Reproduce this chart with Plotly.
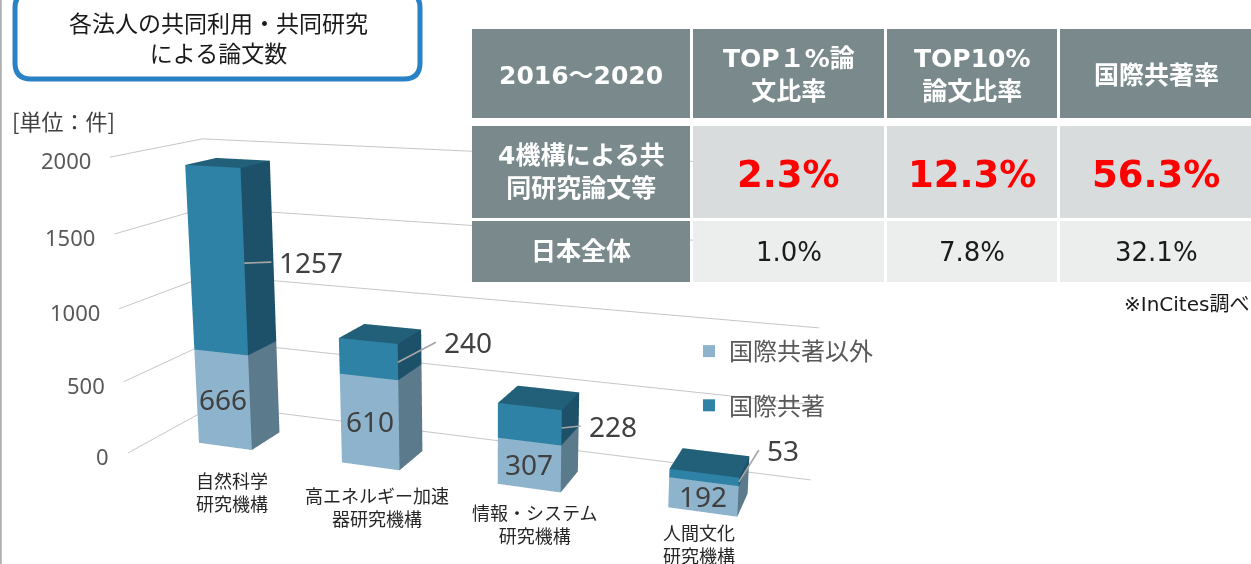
import math
import plotly.graph_objects as go

W, H = 1251, 564          # visible page
HF = 1078                 # figure height (taller canvas -> weaker 3D perspective)
OFF = 264                 # figure is shifted up by this many px on the page

# ---------------- data ----------------
categories = ["自然科学<br>研究機構", "高エネルギー加速<br>器研究機構",
              "情報・システム<br>研究機構", "人間文化<br>研究機構"]
non_intl = [666, 610, 307, 192]      # 国際共著以外
intl = [1257, 240, 228, 53]          # 国際共著
series_names = ["国際共著以外", "国際共著"]
value_ticks = [0, 500, 1000, 1500, 2000]

table_head = ["2016～2020", "TOP１%論<br>文比率", "TOP10%<br>論文比率", "国際共著率"]
table_row_names = ["4機構による共<br>同研究論文等", "日本全体"]
rates_4inst = [2.3, 12.3, 56.3]
rates_japan = [1.0, 7.8, 32.1]

# ---------------- style ----------------
JP = "Noto Sans CJK JP"
NUM = "Noto Sans"
TBL = "DejaVu Sans, Noto Sans CJK JP"
C_LOW = ("#8db4cc", "#5b7a8b", "#7aa3bb")    # front, side, top
C_UP = ("#2e82a6", "#1d5169", "#226079")
LEG_COL = ["#8db4cc", "#2e82a6"]
GRID = "#c6c6c6"

BAR_W = 0.38
DEPTH = 1.0
BAR_D = 0.35
Y0 = 0.31
Y1 = Y0 + BAR_D
ZMAX = 2000
Z_CAT = 1.832      # height of the value box in category units
S = 0.5            # scene scale

up_offsets = [(27, -1), (38, -20), (19, -2), (20, -32)]
cat_shift = [(7, -45), (7, -40), (6, -35), (-3, -32)]


def px_x(x):
    return x / W


def px_y(y):
    return 1 - (y + OFF) / HF


# ---------------- 3D bars ----------------
def add_box(st, x0, x1, y0, y1, z0, z1, cols):
    cf, cs, ct = cols
    n = len(st["x"])
    st["x"] += [x0, x1, x1, x0, x0, x1, x1, x0]
    st["y"] += [y0, y0, y1, y1, y0, y0, y1, y1]
    st["z"] += [z0, z0, z0, z0, z1, z1, z1, z1]
    tris = [(0, 1, 5, cf), (0, 5, 4, cf), (1, 2, 6, cs), (1, 6, 5, cs),
            (4, 5, 6, ct), (4, 6, 7, ct), (3, 2, 6, cs), (3, 6, 7, cs),
            (0, 3, 7, cf), (0, 7, 4, cf), (0, 1, 2, cs), (0, 2, 3, cs)]
    for a, b, c, col in tris:
        st["i"].append(n + a)
        st["j"].append(n + b)
        st["k"].append(n + c)
        st["fc"].append(col)


fig = go.Figure()
for sidx, cols in enumerate([C_LOW, C_UP]):
    st = dict(x=[], y=[], z=[], i=[], j=[], k=[], fc=[])
    for ci in range(len(categories)):
        xc = ci + 0.5
        z0 = 0 if sidx == 0 else non_intl[ci]
        z1 = non_intl[ci] if sidx == 0 else non_intl[ci] + intl[ci]
        add_box(st, xc - BAR_W / 2, xc + BAR_W / 2, Y0, Y1, z0, z1, cols)
    fig.add_trace(go.Mesh3d(
        x=st["x"], y=st["y"], z=st["z"], i=st["i"], j=st["j"], k=st["k"],
        facecolor=st["fc"], flatshading=True, showscale=False, showlegend=False,
        lighting=dict(ambient=1, diffuse=0, specular=0, roughness=1, fresnel=0),
        hoverinfo="skip", name=series_names[sidx]))

# legend entries
for sidx, name in enumerate(series_names):
    fig.add_trace(go.Scatter(
        x=[None], y=[None], mode="markers", name=name, legendgroup=name,
        marker=dict(symbol="square", size=15, color=LEG_COL[sidx])))

# ---------------- scene annotations ----------------
scene_ann = []
label_font = dict(family=NUM, size=28, color="#404040")
for ci in range(len(categories)):
    xc = ci + 0.5
    scene_ann.append(dict(x=xc, y=Y0, z=non_intl[ci] / 2, text=str(non_intl[ci]),
                          showarrow=False, yshift=1, font=label_font))
    ax, ay = up_offsets[ci]
    scene_ann.append(dict(x=xc + BAR_W / 2, y=Y0, z=non_intl[ci] + intl[ci] / 2,
                          text=str(intl[ci]), showarrow=True, arrowhead=0,
                          arrowwidth=1.6, arrowcolor="#a6a6a6", ax=ax, ay=ay,
                          xanchor="left", borderpad=7, font=label_font))
    sx, sy = cat_shift[ci]
    scene_ann.append(dict(x=xc, y=Y0, z=0, text=categories[ci], showarrow=False,
                          xshift=sx, yshift=sy,
                          font=dict(family=JP, size=18, color="#262626")))
for t in value_ticks:
    scene_ann.append(dict(x=0, y=0, z=t, text=str(t), showarrow=False,
                          xanchor="right", xshift=-17, yshift=-3,
                          font=dict(family=NUM, size=22, color="#595959")))

# ---------------- camera (world units: one category = 1) ----------------
yaw, pitch = math.radians(20.3), math.radians(12.5)
eye_w = (4.684, -6.37, 2.809)
F = (-math.sin(yaw) * math.cos(pitch), math.cos(yaw) * math.cos(pitch), -math.sin(pitch))


def to_model(p):
    return ((p[0] - 2.0) * S, (p[1] - DEPTH / 2) * S, (p[2] - Z_CAT / 2) * S)


E = to_model(eye_w)
C = [E[q] + 3.8 * F[q] for q in range(3)]

hidden_axis = dict(showgrid=False, showticklabels=False, showline=False, zeroline=False,
                   showbackground=False, showspikes=False, ticks="", title=dict(text=""))

fig.update_layout(
    width=W, height=HF, margin=dict(l=0, r=0, t=0, b=0),
    paper_bgcolor="white", plot_bgcolor="rgba(0,0,0,0)",
    xaxis=dict(visible=False), yaxis=dict(visible=False),
    scene=dict(
        domain=dict(x=[0, 964 / W], y=[0, 1]),
        aspectmode="manual",
        aspectratio=dict(x=4 * S, y=DEPTH * S, z=Z_CAT * S),
        xaxis=dict(range=[0, 4], **hidden_axis),
        yaxis=dict(range=[0, DEPTH], **hidden_axis),
        zaxis=dict(range=[0, ZMAX], tickvals=value_ticks, showgrid=True, gridcolor=GRID,
                   gridwidth=2, showline=False, zeroline=False, showbackground=False,
                   showspikes=False, ticks="", showticklabels=False, title=dict(text="")),
        camera=dict(up=dict(x=0, y=0, z=1),
                    center=dict(x=C[0], y=C[1], z=C[2]),
                    eye=dict(x=E[0], y=E[1], z=E[2]),
                    projection=dict(type="perspective")),
        annotations=scene_ann,
        bgcolor="rgba(0,0,0,0)",
    ),
    showlegend=True,
    legend=dict(x=px_x(689), y=px_y(329), xanchor="left", yanchor="top",
                font=dict(family=JP, size=24, color="#595959"),
                bgcolor="rgba(0,0,0,0)", tracegroupgap=20, traceorder="grouped",
                itemsizing="constant"),
    hovermode=False,
)

# ---------------- table (shapes + annotations) ----------------
shapes = []
annots = []
col_edges = [(472, 690), (693, 884), (887, 1057), (1060, 1252)]
row_edges = [(29, 118), (126, 218), (221, 282)]
HEAD_FILL = "#7a8a8c"
ROW_FILL = ["#d9dcdd", "#eceeee"]


def cell(x0, x1, y0, y1, fill):
    shapes.append(dict(type="rect", xref="paper", yref="paper", layer="above",
                       x0=px_x(x0), x1=px_x(x1), y0=px_y(y1), y1=px_y(y0),
                       fillcolor=fill, line=dict(width=0)))


def text(x, y, s, size, color, family=JP, xanchor="center", bold=False):
    annots.append(dict(xref="paper", yref="paper", x=px_x(x), y=px_y(y),
                       text=("<b>%s</b>" % s) if bold else s, showarrow=False,
                       xanchor=xanchor, yanchor="middle",
                       font=dict(family=family, size=size, color=color)))


for c, (x0, x1) in enumerate(col_edges):
    ry0, ry1 = row_edges[0]
    cell(x0, x1, ry0, ry1, HEAD_FILL)
    text((x0 + x1) / 2, 75, table_head[c], 25, "white", family=TBL, bold=True)

body_vals = [rates_4inst, rates_japan]
for r in range(2):
    ry0, ry1 = row_edges[r + 1]
    x0, x1 = col_edges[0]
    cell(x0, x1, ry0, ry1, HEAD_FILL)
    text((x0 + x1) / 2, (ry0 + ry1) / 2, table_row_names[r], 25, "white",
         family=TBL, bold=True)
    for c in range(3):
        x0, x1 = col_edges[c + 1]
        cell(x0, x1, ry0, ry1, ROW_FILL[r])
        if r == 0:
            text((x0 + x1) / 2, (ry0 + ry1) / 2 + 2, "%.1f%%" % body_vals[r][c], 37,
                 "#ff0000", family=TBL, bold=True)
        else:
            text((x0 + x1) / 2, (ry0 + ry1) / 2, "%.1f%%" % body_vals[r][c], 26,
                 "#1a1a1a", family=TBL)

text(1251, 304, "※InCites調べ", 20, "#1a1a1a", family=TBL, xanchor="right")

# ---------------- title box, unit, border ----------------
bx0, bx1, by0, by1, rr = 15, 420, -8, 79, 16
pts = [("M", bx0 + rr, by0), ("L", bx1 - rr, by0), ("Q", bx1, by0, bx1, by0 + rr),
       ("L", bx1, by1 - rr), ("Q", bx1, by1, bx1 - rr, by1), ("L", bx0 + rr, by1),
       ("Q", bx0, by1, bx0, by1 - rr), ("L", bx0, by0 + rr), ("Q", bx0, by0, bx0 + rr, by0)]
path = ""
for p in pts:
    coords = p[1:]
    seg = ["%.5f,%.5f" % (px_x(coords[q]), px_y(coords[q + 1]))
           for q in range(0, len(coords), 2)]
    path += p[0] + " " + " ".join(seg) + " "
path += "Z"
shapes.append(dict(type="path", xref="paper", yref="paper", path=path, layer="above",
                   fillcolor="white", line=dict(color="#2a82c6", width=5)))
text(218, 37, "各法人の共同利用・共同研究<br>による論文数", 23, "#1a1a1a")
text(10, 120, "[単位：件]", 22, "#404040", xanchor="left")
shapes.append(dict(type="line", xref="paper", yref="paper", layer="above",
                   x0=px_x(0.8), x1=px_x(0.8), y0=px_y(564), y1=px_y(0),
                   line=dict(color="#b0b0b0", width=2)))

fig.update_layout(shapes=shapes, annotations=annots)

post = """
document.documentElement.style.margin='0';
document.body.style.margin='0';
document.documentElement.style.overflow='hidden';
document.body.style.overflow='hidden';
var gd=document.getElementById('{plot_id}');
var wrap=gd.parentElement;
wrap.style.position='relative';
wrap.style.width='%dpx';
wrap.style.height='%dpx';
wrap.style.overflow='hidden';
gd.style.position='absolute';
gd.style.left='0px';
gd.style.top='-%dpx';
""" % (W, H, OFF)

fig.write_html("out.html", post_script=post)
